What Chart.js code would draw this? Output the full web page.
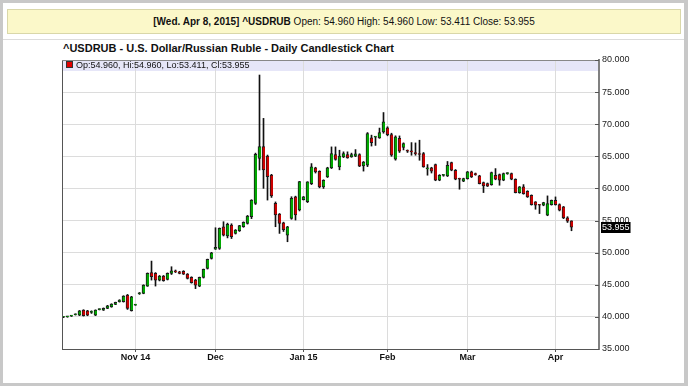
<!DOCTYPE html>
<html><head><meta charset="utf-8">
<script src="https://cdn.jsdelivr.net/npm/chart.js@4.4.1/dist/chart.umd.min.js"></script>
<style>
html,body{margin:0;padding:0;background:#c8c8c8;}
#frame{position:absolute;left:0;top:0;width:688px;height:386px;background:#c8c8c8;overflow:hidden;}
#panel{position:absolute;left:3px;top:3px;width:681px;height:380px;background:#fff;}
#sep{position:absolute;left:3px;top:39px;width:681px;height:1px;background:#dcdcdc;}
#hdr{position:absolute;left:7px;top:9px;width:672px;height:23px;background:#fbf8c9;border:1px solid #d9d7a9;
  font:10px "Liberation Sans",Arial,sans-serif;text-align:center;line-height:23px;color:#111;white-space:nowrap;}
#title{position:absolute;left:63px;top:42px;font:bold 11px "Liberation Sans",Arial,sans-serif;color:#111;white-space:nowrap;}
#legend{position:absolute;left:66px;top:60px;height:10px;font:9px "Liberation Sans",Arial,sans-serif;line-height:10px;color:#111;white-space:nowrap;}
#legend .sw{display:inline-block;width:5px;height:5px;background:#e00000;border:1px solid #333;margin-right:3px;vertical-align:0px;}
canvas{position:absolute;left:0;top:0;}
</style></head>
<body>
<div id="frame">
  <div id="panel"></div>
  <div id="sep"></div>
  <div id="hdr"><b>[Wed. Apr 8, 2015] ^USDRUB</b> Open: 54.960 High: 54.960 Low: 53.411 Close: 53.955</div>
  <div id="title">^USDRUB - U.S. Dollar/Russian Ruble - Daily Candlestick Chart</div>
  <canvas id="c" width="688" height="386"></canvas>
  <div id="legend"><span class="sw"></span>Op:54.960, Hi:54.960, Lo:53.411, Cl:53.955</div>
</div>
<script>
const dates = [
 "2014-10-08","2014-10-09","2014-10-10","2014-10-13","2014-10-14","2014-10-15","2014-10-16","2014-10-17","2014-10-20","2014-10-21",
 "2014-10-22","2014-10-23","2014-10-24","2014-10-27","2014-10-28","2014-10-29","2014-10-30","2014-10-31",
 "2014-11-03","2014-11-04","2014-11-05","2014-11-06","2014-11-07","2014-11-10","2014-11-11","2014-11-12","2014-11-13","2014-11-14",
 "2014-11-17","2014-11-18","2014-11-19","2014-11-20","2014-11-21","2014-11-24","2014-11-25","2014-11-26","2014-11-27","2014-11-28",
 "2014-12-01","2014-12-02","2014-12-03","2014-12-04","2014-12-05","2014-12-08","2014-12-09","2014-12-10","2014-12-11","2014-12-12",
 "2014-12-15","2014-12-16","2014-12-17","2014-12-18","2014-12-19","2014-12-22","2014-12-23","2014-12-24","2014-12-26","2014-12-29",
 "2014-12-30","2014-12-31",
 "2015-01-02","2015-01-05","2015-01-06","2015-01-07","2015-01-08","2015-01-09","2015-01-12","2015-01-13","2015-01-14","2015-01-15",
 "2015-01-16","2015-01-19","2015-01-20","2015-01-21","2015-01-22","2015-01-23","2015-01-26","2015-01-27","2015-01-28","2015-01-29","2015-01-30",
 "2015-02-02","2015-02-03","2015-02-04","2015-02-05","2015-02-06","2015-02-09","2015-02-10","2015-02-11","2015-02-12","2015-02-13",
 "2015-02-16","2015-02-17","2015-02-18","2015-02-19","2015-02-20","2015-02-23","2015-02-24","2015-02-25","2015-02-26","2015-02-27",
 "2015-03-02","2015-03-03","2015-03-04","2015-03-05","2015-03-06","2015-03-09","2015-03-10","2015-03-11","2015-03-12","2015-03-13",
 "2015-03-16","2015-03-17","2015-03-18","2015-03-19","2015-03-20","2015-03-23","2015-03-24","2015-03-25","2015-03-26","2015-03-27",
 "2015-03-30","2015-03-31",
 "2015-04-01","2015-04-02","2015-04-06","2015-04-07","2015-04-08"
];
const openP = [
 39.95,40.00,40.12,40.34,40.28,41.06,40.95,40.70,40.25,41.14,41.06,41.32,41.57,41.94,42.36,42.36,43.40,40.95,
 41.84,43.60,43.66,44.80,46.88,46.77,45.73,46.36,45.84,46.77,47.10,47.03,47.10,46.67,46.15,45.73,44.80,46.15,47.55,49.11,
 50.56,50.67,54.04,52.60,54.30,53.00,53.42,54.04,54.56,55.60,57.67,64.68,66.50,65.05,62.09,57.67,56.01,54.66,52.74,55.34,58.71,56.64,
 58.27,57.93,60.76,63.20,62.68,60.24,61.80,63.20,65.28,63.35,64.91,65.28,64.91,65.02,65.28,63.50,63.61,67.87,68.00,67.87,68.80,
 69.43,68.39,64.55,67.80,66.37,65.85,65.75,65.48,65.33,65.43,63.05,63.20,63.72,61.28,62.04,61.95,64.03,62.83,61.50,61.12,
 61.54,62.58,62.30,61.95,60.91,60.76,60.60,62.06,62.16,61.28,62.30,62.32,61.43,59.36,60.24,59.56,58.94,57.90,57.40,57.38,55.83,57.49,
 58.16,57.49,57.12,55.41,54.96
];
const highP = [
 40.05,40.08,40.20,40.48,41.00,41.12,41.02,40.95,41.10,41.25,41.40,41.80,42.05,42.30,42.68,43.30,43.50,43.20,
 41.90,43.80,45.00,46.85,48.69,46.90,46.45,46.45,46.85,47.81,47.30,47.10,47.20,46.75,46.25,45.85,46.20,47.45,49.00,50.05,
 53.88,53.85,54.82,54.60,54.50,53.60,54.25,54.80,55.80,58.25,65.50,77.66,70.91,65.20,62.20,57.90,56.10,54.75,54.10,58.71,58.80,61.10,
 58.75,61.05,63.87,63.30,62.75,61.35,63.30,66.47,66.47,65.95,65.70,65.70,65.50,66.05,65.40,64.20,68.70,68.30,68.10,69.40,71.82,
 69.60,68.60,68.20,68.18,67.10,66.00,67.14,67.09,67.51,65.60,63.72,63.30,63.80,62.15,62.15,64.20,64.10,62.95,61.60,61.60,
 62.65,62.70,62.40,62.05,61.00,60.85,62.55,63.09,62.25,62.40,62.45,62.40,61.50,60.30,60.60,59.65,59.00,57.95,57.50,57.85,58.84,58.20,
 58.68,57.60,57.20,55.60,54.96
];
const lowP = [
 39.88,39.94,40.06,40.28,40.20,40.12,40.18,40.54,40.20,41.08,41.00,41.28,41.50,41.90,42.30,42.30,41.16,40.90,
 41.80,43.50,43.60,44.75,45.73,44.80,45.60,45.55,45.75,46.60,46.90,46.70,46.60,45.90,45.25,44.40,44.70,46.05,47.45,49.00,
 50.50,50.51,52.60,52.30,52.20,52.90,53.30,53.95,54.45,55.30,57.50,62.87,60.01,58.19,58.60,54.04,53.00,53.30,51.70,55.20,55.08,56.50,
 58.20,57.80,60.60,62.40,60.10,60.00,61.70,63.10,64.40,62.90,64.80,64.70,64.85,64.95,63.40,62.70,63.40,66.60,66.70,67.80,68.60,
 68.20,65.00,64.40,65.60,66.00,65.60,65.17,65.17,64.39,63.30,62.06,62.40,61.20,61.20,61.90,61.85,62.75,61.35,59.88,61.05,
 61.45,61.70,62.05,60.70,59.36,60.30,60.50,61.35,60.50,61.20,62.20,61.35,59.30,59.25,59.10,58.60,57.40,56.76,56.09,57.30,55.75,57.40,
 57.40,56.50,55.30,54.70,53.411
];
const closeP = [
 40.00,40.04,40.15,40.40,40.93,40.20,40.25,40.78,41.06,41.17,41.32,41.73,41.99,42.25,42.62,43.24,41.32,43.13,
 41.84,43.70,44.95,46.77,46.25,45.73,46.36,45.63,46.77,47.19,47.00,46.77,46.67,45.99,45.32,44.95,46.15,47.39,48.95,49.99,
 50.82,53.78,52.74,54.40,52.48,53.50,54.20,54.71,55.70,58.19,65.31,66.50,62.87,61.83,58.82,55.86,54.56,53.60,54.04,58.45,55.86,61.05,
 58.68,61.02,63.35,62.58,60.24,61.28,63.20,65.43,64.50,65.02,65.43,64.76,65.28,65.38,63.46,64.10,68.55,67.14,68.05,68.70,70.36,
 68.39,65.17,68.03,65.79,66.99,65.79,65.69,65.43,65.28,63.35,63.09,62.68,61.28,62.06,62.06,63.61,62.83,61.43,61.43,61.54,
 62.58,61.80,62.15,60.76,60.39,60.34,62.47,61.43,61.28,62.32,62.34,61.43,59.36,60.24,59.20,58.68,57.49,57.38,57.38,57.80,57.64,58.16,
 57.49,56.60,55.41,54.89,53.955
];
const monthTickIdx = [18, 38, 60, 81, 101, 123];
const monthTickLabels = ["Nov 14", "Dec", "Jan 15", "Feb", "Mar", "Apr"];
const yMin = 35, yMax = 80, yStep = 5;

const UP = "#00a800", DOWN = "#cc0000";
const wickData = dates.map((d, i) => ({x: i, y: [lowP[i], highP[i]]}));
const bodyData = dates.map((d, i) => ({x: i, y: [Math.min(openP[i], closeP[i]), Math.max(openP[i], closeP[i])]}));
const bodyColors = dates.map((d, i) => closeP[i] >= openP[i] ? UP : DOWN);

const FONT = '"Liberation Sans", Arial, sans-serif';

const decor = {
  id: 'decor',
  beforeDraw(chart) {
    const {ctx, chartArea: a} = chart;
    ctx.save();
    ctx.fillStyle = '#e6e6f8';
    ctx.fillRect(a.left, a.top, a.right - a.left, 11);
    ctx.restore();
  },
  afterDraw(chart) {
    const {ctx, chartArea: a} = chart;
    const ys = chart.scales.y;
    ctx.save();
    ctx.strokeStyle = '#555';
    ctx.lineWidth = 1;
    ctx.beginPath();
    ctx.moveTo(a.left + 0.5, a.top);
    ctx.lineTo(a.left + 0.5, a.bottom);
    ctx.stroke();
    ctx.strokeStyle = '#888';
    ctx.beginPath();
    ctx.moveTo(a.left, a.top + 0.5);
    ctx.lineTo(a.right, a.top + 0.5);
    ctx.stroke();
    ctx.strokeStyle = '#555';
    ys.ticks.forEach(t => {
      const y = Math.round(ys.getPixelForValue(t.value)) + 0.5;
      ctx.beginPath();
      ctx.moveTo(a.right - 4, y);
      ctx.lineTo(a.right, y);
      ctx.stroke();
    });
    const last = closeP[closeP.length - 1];
    const py = ys.getPixelForValue(last);
    ctx.font = '9px ' + FONT;
    const txt = last.toFixed(3);
    const w = ctx.measureText(txt).width;
    ctx.fillStyle = '#000';
    ctx.fillRect(a.right + 2, Math.round(py) - 5, w + 2, 11);
    ctx.fillStyle = '#fff';
    ctx.textBaseline = 'middle';
    ctx.fillText(txt, a.right + 3, Math.round(py) + 0.5);
    ctx.restore();
  }
};

new Chart(document.getElementById('c'), {
  type: 'bar',
  data: {
    datasets: [
      {label: 'Body', data: bodyData, backgroundColor: bodyColors, borderColor: '#1a1a1a',
       borderWidth: {left: 1, top: 1, bottom: 1, right: 0}, borderSkipped: false,
       barThickness: 3, minBarLength: 1, grouped: false, order: 0},
      {label: 'Wick', data: wickData, backgroundColor: '#111', borderWidth: 0,
       barThickness: 1, minBarLength: 1, grouped: false, order: 1}
    ]
  },
  options: {
    responsive: false,
    animation: false,
    devicePixelRatio: 1,
    layout: {padding: {left: 62, top: 60, right: 0, bottom: 0}},
    plugins: {legend: {display: false}, tooltip: {enabled: false}},
    scales: {
      x: {
        type: 'linear',
        offset: false,
        bounds: 'data',
        min: -0.375, max: 133.875,
        afterFit: s => { s.height = 37; },
        afterBuildTicks: s => { s.ticks = monthTickIdx.map(v => ({value: v})); },
        ticks: {
          autoSkip: false, maxRotation: 0, padding: 0,
          font: {family: FONT, size: 9, weight: 'bold'}, color: '#111',
          callback: v => monthTickLabels[monthTickIdx.indexOf(v)]
        },
        grid: {offset: false, color: '#dcdcdc', lineWidth: 1, tickColor: '#555', tickLength: 3, drawTicks: true},
        border: {display: true, color: '#555', width: 1}
      },
      y: {
        type: 'linear', position: 'right',
        min: yMin, max: yMax,
        afterFit: s => { s.width = 89; },
        ticks: {stepSize: yStep, padding: 3, font: {family: FONT, size: 9}, color: '#222',
                callback: v => Number(v).toFixed(3)},
        grid: {color: '#dcdcdc', lineWidth: 1, drawTicks: false},
        border: {display: true, color: '#808080', width: 2}
      }
    }
  },
  plugins: [decor]
});
</script>
</body></html>
